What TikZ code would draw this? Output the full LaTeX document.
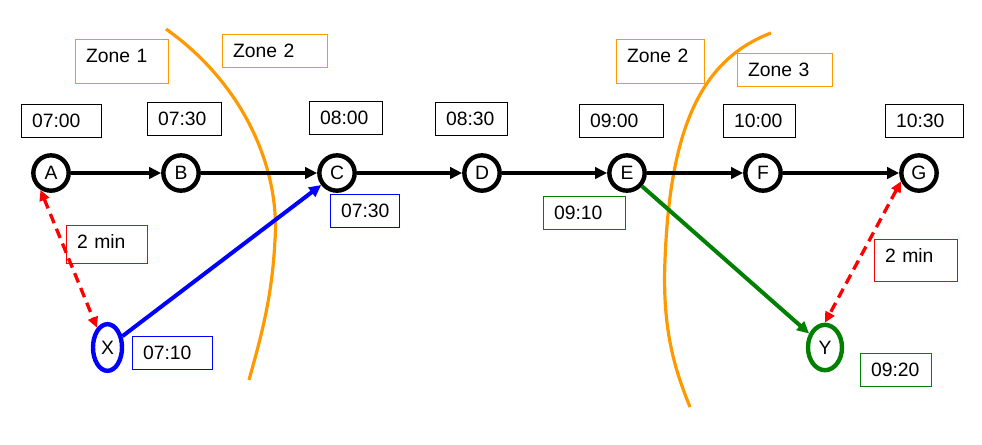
\documentclass[tikz,border=0pt]{standalone}
\usepackage{fontspec}
\setmainfont{Liberation Sans}
\usetikzlibrary{arrows.meta,shapes.geometric}

\definecolor{zoneorange}{RGB}{255,153,0}
\definecolor{walkred}{RGB}{255,0,0}
\definecolor{walkblue}{RGB}{0,0,255}
\definecolor{walkgreen}{RGB}{0,128,0}

\tikzset{
  stop/.style={circle, draw, line width=3.3pt, minimum size=26.5pt, inner sep=0pt, fill=white},
  trip/.style={ellipse, draw, line width=3.3pt, inner sep=0pt},
  timebox/.style={draw, line width=0.6pt, anchor=north west, inner xsep=8pt, inner ysep=7pt,
    align=left, text height=10.4pt, text depth=0pt},
  hop/.style={-{Triangle[length=9pt,width=8.5pt]}, line width=2.8pt},
  walk/.style={{Triangle[length=8pt,width=7.5pt]}-{Triangle[length=8pt,width=7.5pt]}, line width=2.5pt,
    walkred, dash pattern=on 7.5pt off 4.5pt},
  zoneline/.style={zoneorange, line width=2.4pt}
}

\begin{document}
\begin{tikzpicture}[x=0.75pt,y=0.75pt,yscale=-1,xscale=1,font=\fontsize{14.5}{17}\selectfont]
\useasboundingbox (0,0) rectangle (982,444);

%Zone labels
\node (z1) at (75,39) [timebox, draw=zoneorange, text width=53.75pt, text depth=8.6pt] {Zone 1};
\node (z2a) at (222,34) [timebox, draw=zoneorange, text width=62.75pt] {Zone 2};
\node (z2b) at (616,39) [timebox, draw=zoneorange, text width=50pt, text depth=8.6pt] {Zone 2};
\node (z3) at (737,53) [timebox, draw=zoneorange, text width=55.25pt] {Zone 3};

%Zone borders
\draw [zoneline] (166,29) .. controls (245,85) and (280,170) .. (275,240) .. controls (272,300) and (260,340) .. (249,380);
\draw [zoneline] (771,33) .. controls (700,60) and (670,130) .. (665,260) .. controls (662,330) and (675,370) .. (690,407);

%Scheduled times
\node (tA) at (21,104) [timebox, text width=44pt] {07:00};
\node (tB) at (147,102) [timebox, text width=39.5pt] {07:30};
\node (tC) at (309,101) [timebox, text width=38.75pt] {08:00};
\node (tD) at (435,102) [timebox, text width=38pt] {08:30};
\node (tE) at (579,104) [timebox, text width=47pt] {09:00};
\node (tF) at (723,104) [timebox, text width=38pt] {10:00};
\node (tG) at (885,104) [timebox, text width=42.5pt] {10:30};

%Stops
\node (A) at (51,173) [stop] {A};
\node (B) at (181,173) [stop] {B};
\node (C) at (337,173) [stop] {C};
\node (D) at (482,173) [stop] {D};
\node (E) at (627,173) [stop] {E};
\node (F) at (763,173) [stop] {F};
\node (G) at (919,173) [stop] {G};

%Access and egress
\node (X) at (107.5,347.5) [trip, draw=walkblue, minimum width=21.75pt, minimum height=35pt] {X};
\node (Y) at (825,347.5) [trip, draw=walkgreen, minimum width=25.5pt, minimum height=34pt] {Y};

\node (tX) at (132,336) [timebox, draw=walkblue, text width=44pt] {07:10};
\node (tXC) at (330,194) [timebox, draw=walkblue, text width=36pt] {07:30};
\node (tEY) at (543,196) [timebox, draw=walkgreen, text width=45.5pt] {09:10};
\node (tY) at (860,353) [timebox, draw=walkgreen, text width=37.25pt] {09:20};
\node (wA) at (66,225) [timebox, draw=walkred, text width=44.75pt, text depth=4.1pt] {2 min};
\node (wG) at (874,239) [timebox, draw=walkred, text width=46.25pt, text depth=7pt] {2 min};

%Line
\draw [hop] (A) -- (B);
\draw [hop] (B) -- (C);
\draw [hop] (C) -- (D);
\draw [hop] (D) -- (E);
\draw [hop] (E) -- (F);
\draw [hop] (F) -- (G);

\draw [hop, walkblue, line width=3pt] (X) -- (C);
\draw [hop, walkgreen, line width=3pt] (E) -- (Y);

\draw [walk] (A.238) -- (X.118);
\draw [walk] (G.205) -- (Y.north);

\end{tikzpicture}
\end{document}
